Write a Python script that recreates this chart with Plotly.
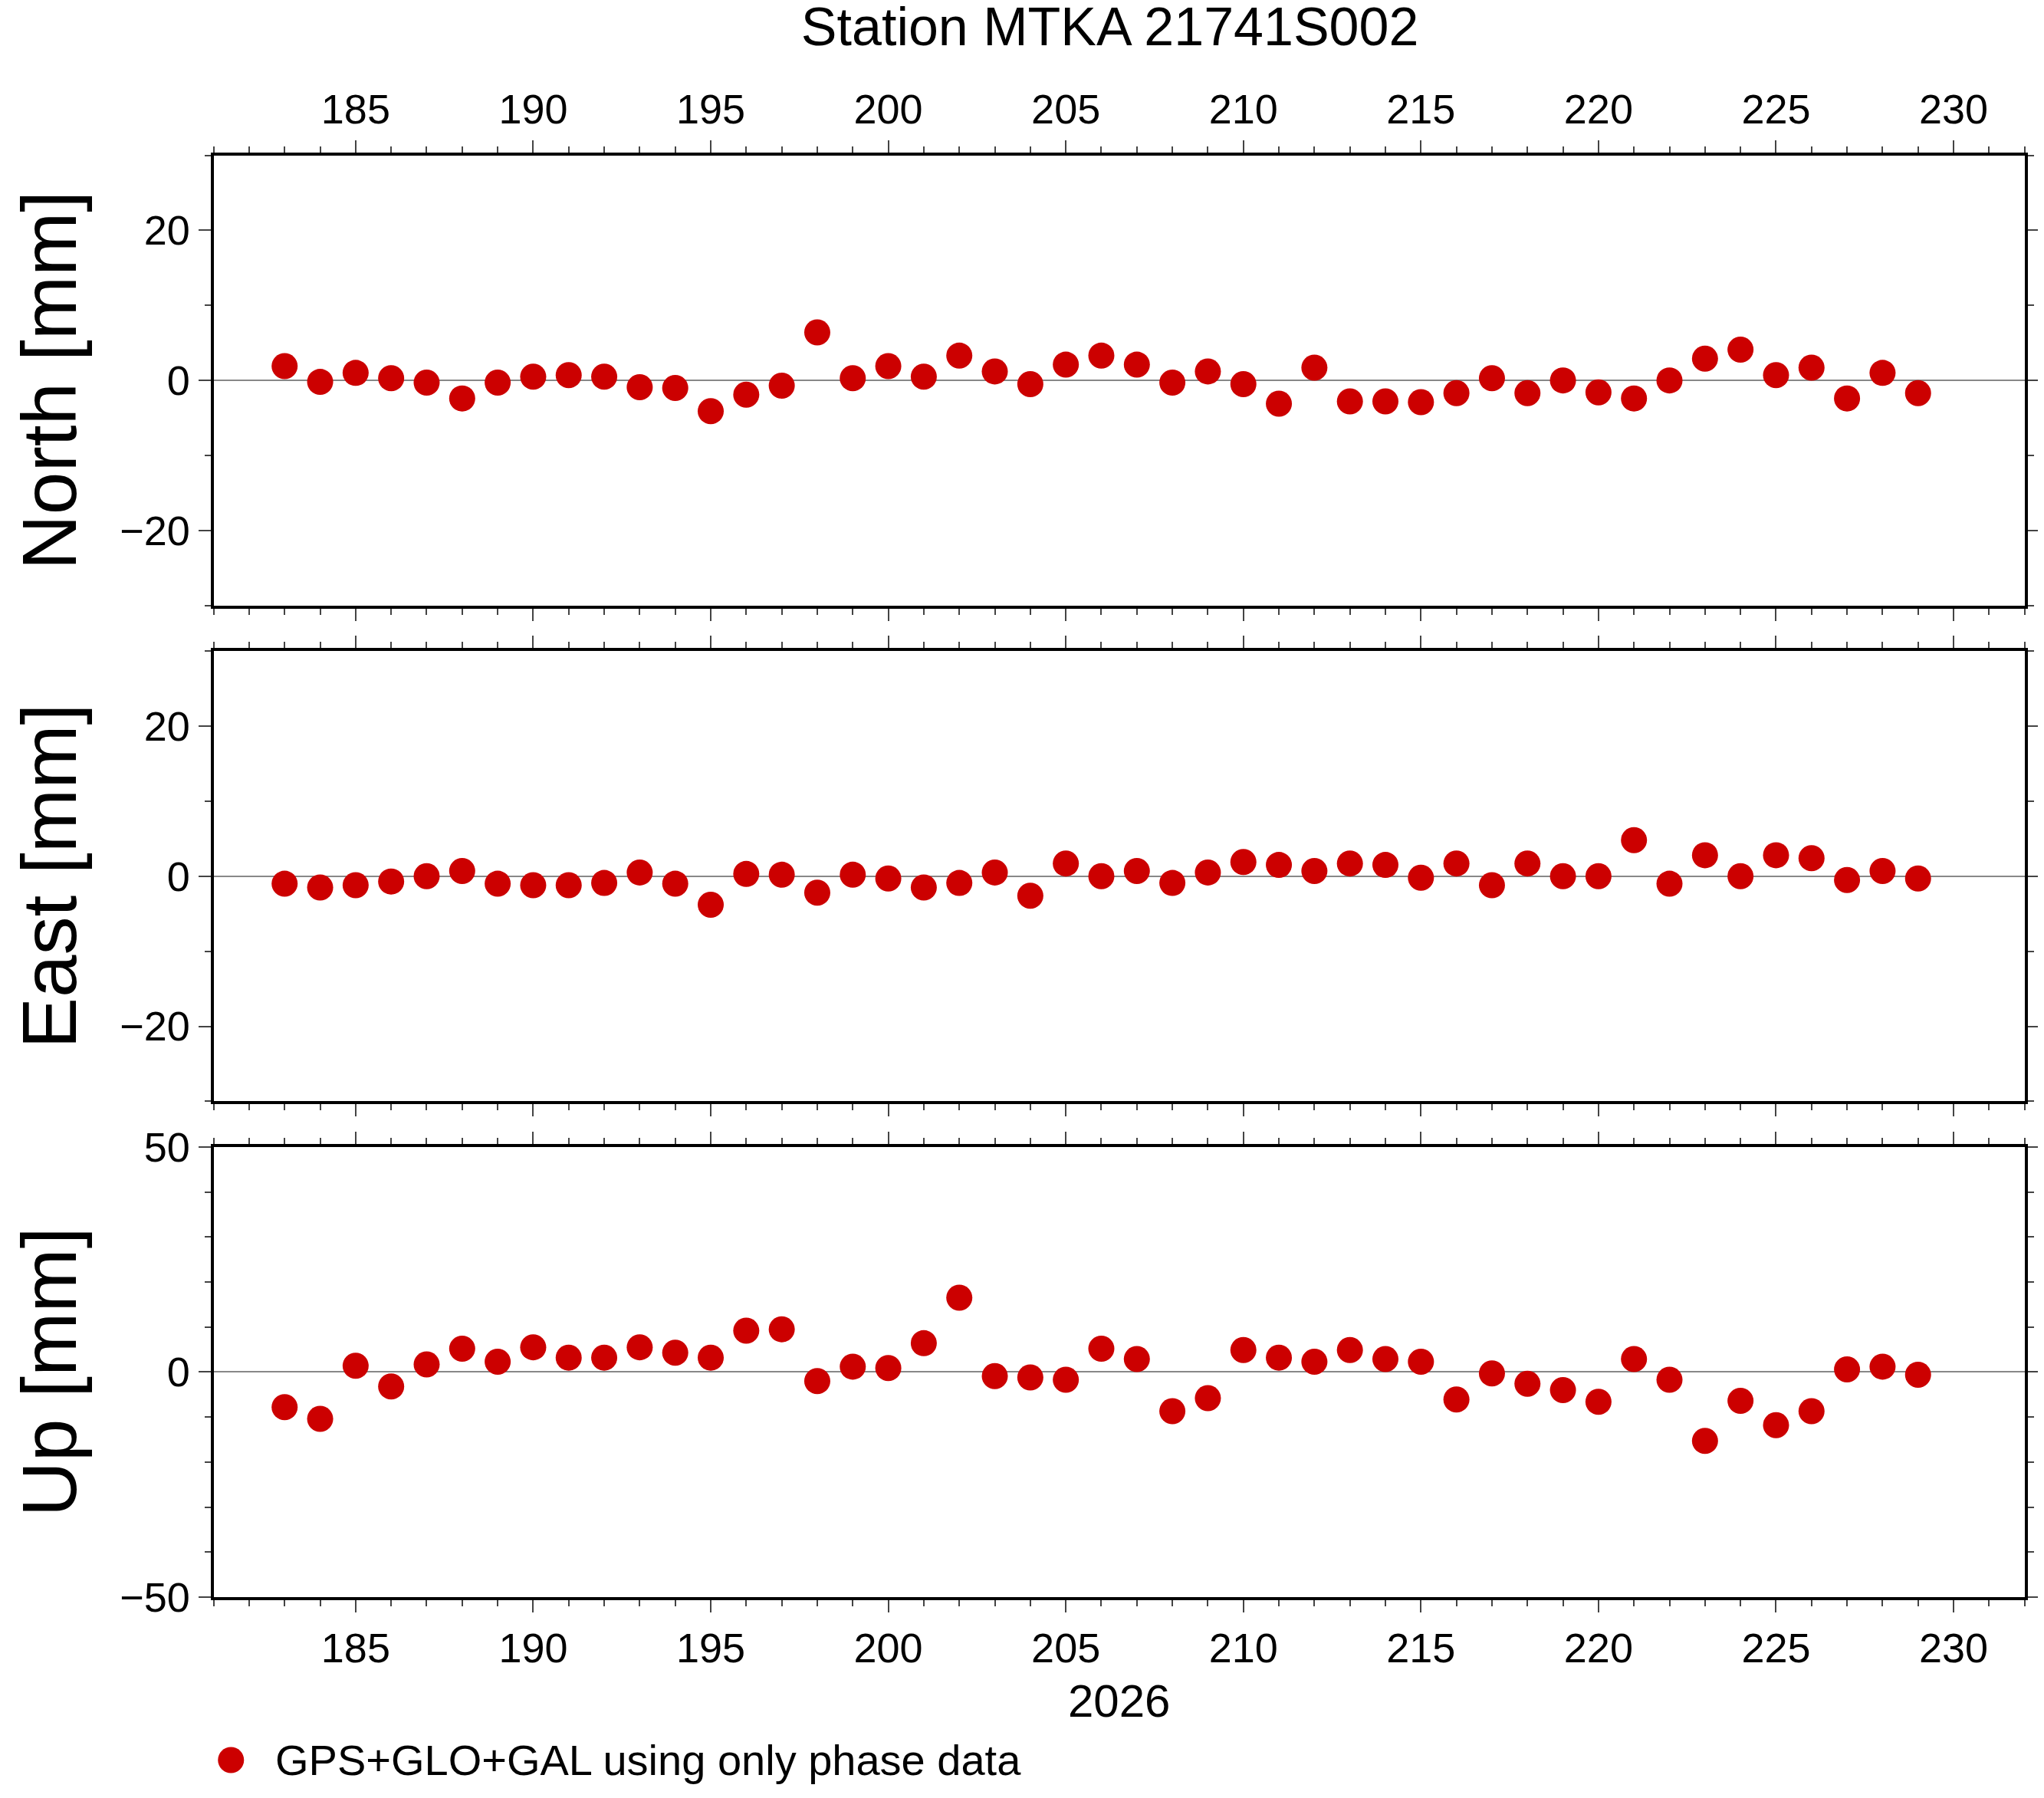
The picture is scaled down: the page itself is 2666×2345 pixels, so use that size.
import plotly.graph_objects as go

days = list(range(183, 230))
north = [1.9,-0.2,1.0,0.3,-0.3,-2.4,-0.3,0.5,0.7,0.5,-0.9,-1.0,-4.1,-1.9,-0.7,6.4,0.3,1.9,0.5,3.3,1.2,-0.5,2.1,3.3,2.1,-0.3,1.2,-0.5,-3.1,1.7,-2.8,-2.8,-2.9,-1.7,0.3,-1.7,0.0,-1.6,-2.4,0.0,2.9,4.1,0.7,1.7,-2.4,1.0,-1.7]
east = [-1.0,-1.5,-1.2,-0.7,0.0,0.7,-1.0,-1.2,-1.2,-0.9,0.5,-1.0,-3.8,0.3,0.2,-2.2,0.2,-0.3,-1.5,-0.9,0.5,-2.6,1.7,0.0,0.7,-0.9,0.5,1.9,1.5,0.7,1.7,1.5,-0.2,1.7,-1.2,1.7,0.0,0.0,4.8,-1.0,2.8,0.0,2.8,2.4,-0.5,0.7,-0.3]
up = [-7.8,-10.4,1.4,-3.2,1.7,5.2,2.3,5.5,3.2,3.2,5.5,4.3,3.2,9.2,9.5,-2.0,1.2,0.9,6.4,16.5,-0.9,-1.2,-1.7,5.2,2.9,-8.7,-5.8,4.9,3.2,2.3,4.9,2.9,2.3,-6.1,-0.3,-2.6,-4.0,-6.6,2.9,-1.7,-15.3,-6.4,-11.8,-8.7,0.6,1.2,-0.6]
x_range = [181, 232]
title = "Station MTKA 21741S002"
legend_name = "GPS+GLO+GAL using only phase data"
year_label = "2026"

RED = "#cc0000"
FONT = "Liberation Sans"
fig = go.Figure()
panels = [("North [mm]", north, [-30, 30], 20, [0.671, 0.928]),
          ("East [mm]", east, [-30, 30], 20, [0.388, 0.645]),
          ("Up [mm]", up, [-50, 50], 50, [0.105, 0.362])]
for i, (name, vals, yr, dt, dom) in enumerate(panels):
    n = "" if i == 0 else str(i + 1)
    fig.add_trace(go.Scatter(x=days, y=vals, mode="markers", xaxis="x" + n, yaxis="y" + n,
                             marker=dict(color=RED, size=34), name=legend_name,
                             showlegend=False))
    xside = "top" if i == 0 else "bottom"
    fig.update_layout(**{
        "xaxis" + n: dict(domain=[0.1015, 0.9875], range=x_range, anchor="y" + n, side=xside,
                          showticklabels=(i != 1), tickmode="linear", tick0=185, dtick=5,
                          ticks="outside", ticklen=16, tickwidth=2, mirror="ticks",
                          showline=True, linewidth=4, linecolor="black", showgrid=False,
                          zeroline=False, tickfont=dict(size=54, color="black"),
                          minor=dict(dtick=1, ticks="outside", ticklen=8, tickwidth=2),
                          title=dict(text=year_label if i == 2 else "", font=dict(size=60, color="black"), standoff=20)),
        "yaxis" + n: dict(domain=dom, range=yr, anchor="x" + n, tickmode="linear", tick0=0, dtick=dt,
                          ticks="outside", ticklen=16, tickwidth=2, mirror="ticks",
                          showline=True, linewidth=4, linecolor="black", showgrid=False,
                          zeroline=True, zerolinecolor="#888888", zerolinewidth=1.5,
                          tickfont=dict(size=54, color="black"),
                          minor=dict(dtick=10, ticks="outside", ticklen=8, tickwidth=2),
                          title=dict(text=name, font=dict(size=100, color="black"), standoff=30)),
    })

fig.add_shape(type="circle", xref="paper", yref="paper", xsizemode="pixel", ysizemode="pixel",
              xanchor=0.110, yanchor=0.012, x0=-17, x1=17, y0=-17, y1=17,
              fillcolor=RED, line=dict(color=RED, width=0))
fig.add_annotation(text=legend_name, xref="paper", yref="paper", x=0.131, y=0.012,
                   xanchor="left", yanchor="middle", showarrow=False, font=dict(size=56, color="black"))

fig.update_layout(
    width=2666, height=2345, plot_bgcolor="white", paper_bgcolor="white",
    font=dict(family=FONT, color="black"),
    margin=dict(l=0, r=0, t=0, b=0),
    title=dict(text=title, x=0.54, xanchor="center", y=0.999, yanchor="top", font=dict(size=70)),
    showlegend=False,
)
fig.write_html("out.html")
